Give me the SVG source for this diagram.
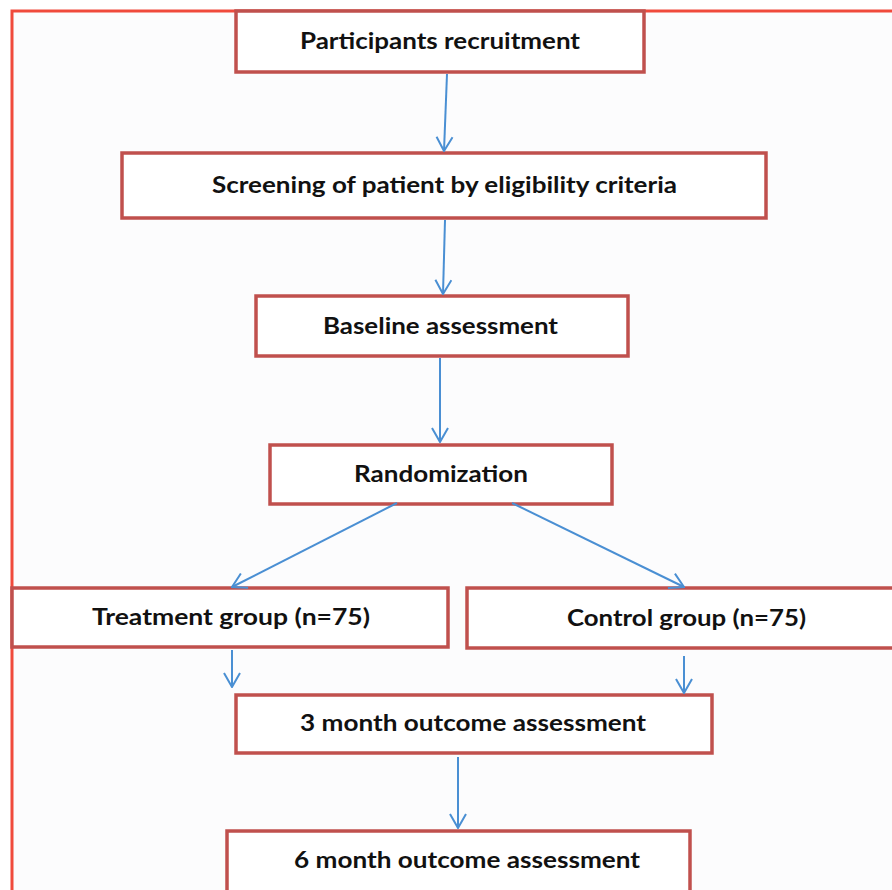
<svg xmlns="http://www.w3.org/2000/svg" width="892" height="890" viewBox="0 0 892 890">
<defs>
<style>
.box{fill:#ffffff;stroke:#c0504d;stroke-width:3.5}
.lbl{font-family:Lato,"Open Sans","Liberation Sans",sans-serif;font-weight:bold;font-size:22.5px;fill:#111111;text-anchor:middle}
.conn{stroke:#4a8fd3;stroke-width:2;fill:none;marker-end:url(#arr)}
</style>
<marker id="arr" markerUnits="userSpaceOnUse" viewBox="0 0 16 18" refX="15" refY="9" markerWidth="16" markerHeight="18" orient="auto">
<path d="M1,1 L15,9 L1,17" fill="none" stroke="#4a8fd3" stroke-width="2"/>
</marker>
</defs>
<rect x="0" y="0" width="892" height="890" fill="#ffffff"/>
<rect x="12" y="11" width="900" height="900" fill="#fcfcfd" stroke="#f04a3c" stroke-width="3"/>
<g id="n1"><rect class="box" x="236" y="11" width="408" height="61"/><text class="lbl" x="440" y="49" textLength="280" lengthAdjust="spacingAndGlyphs">Participants recruitment</text></g>
<g id="n2"><rect class="box" x="122" y="153" width="644" height="65"/><text class="lbl" x="444.5" y="193" textLength="465" lengthAdjust="spacingAndGlyphs">Screening of patient by eligibility criteria</text></g>
<g id="n3"><rect class="box" x="256" y="296" width="372" height="60"/><text class="lbl" x="440.5" y="334" textLength="235" lengthAdjust="spacingAndGlyphs">Baseline assessment</text></g>
<g id="n4"><rect class="box" x="270" y="445" width="342" height="59"/><text class="lbl" x="441" y="482" textLength="174" lengthAdjust="spacingAndGlyphs">Randomization</text></g>
<g id="n5"><rect class="box" x="12" y="588" width="436" height="59"/><text class="lbl" x="231" y="625" textLength="278" lengthAdjust="spacingAndGlyphs">Treatment group (n=75)</text></g>
<g id="n6"><rect class="box" x="467" y="588" width="440" height="60"/><text class="lbl" x="686.5" y="626" textLength="239" lengthAdjust="spacingAndGlyphs">Control group (n=75)</text></g>
<g id="n7"><rect class="box" x="236" y="695" width="476" height="58"/><text class="lbl" x="473" y="731" textLength="346" lengthAdjust="spacingAndGlyphs">3 month outcome assessment</text></g>
<g id="n8"><rect class="box" x="227" y="831" width="463" height="70"/><text class="lbl" x="467" y="868" textLength="346" lengthAdjust="spacingAndGlyphs">6 month outcome assessment</text></g>
<g id="connectors">
<line class="conn" x1="447" y1="74" x2="444" y2="151"/>
<line class="conn" x1="445" y1="220" x2="443" y2="294"/>
<line class="conn" x1="440" y1="358" x2="440" y2="442"/>
<line class="conn" x1="397" y1="503" x2="232" y2="587"/>
<line class="conn" x1="512" y1="503" x2="684" y2="587"/>
<line class="conn" x1="232" y1="650" x2="232" y2="687"/>
<line class="conn" x1="684" y1="656" x2="684" y2="693"/>
<line class="conn" x1="458" y1="757" x2="458" y2="828"/>
</g>
</svg>
